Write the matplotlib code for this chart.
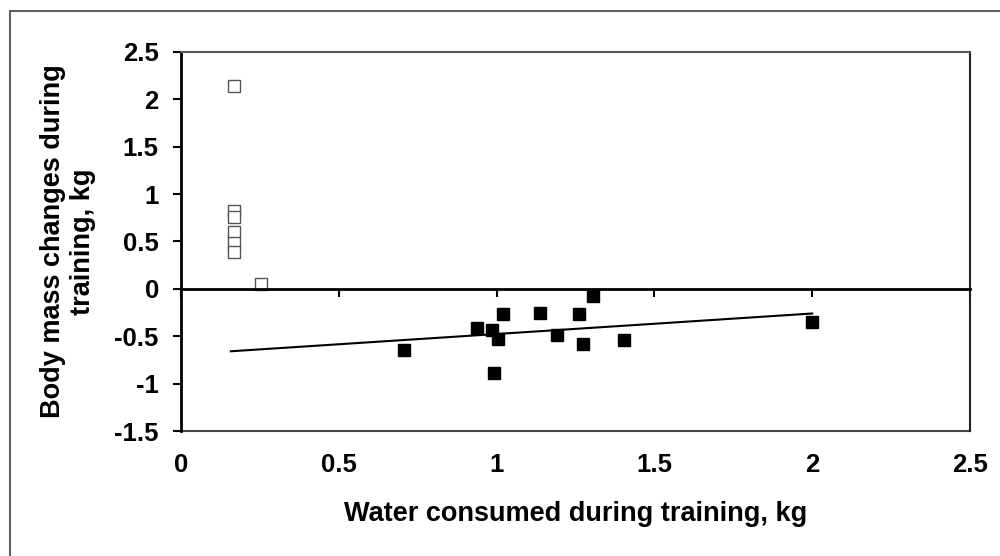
import numpy as np
import matplotlib.pyplot as plt
from matplotlib.patches import Rectangle

plt.rcParams['font.family'] = ['Liberation Sans', 'DejaVu Sans']
plt.rcParams['font.weight'] = 'bold'

# water consumed (kg) vs body mass change (kg)
water_open = [0.168, 0.168, 0.168, 0.168, 0.168, 0.168, 0.254]
mass_open = [2.14, 0.82, 0.76, 0.60, 0.48, 0.39, 0.05]

water_filled = [0.707, 0.938, 0.985, 0.993, 1.005, 1.021, 1.138, 1.192,
                1.261, 1.274, 1.306, 1.404, 2.0]
mass_filled = [-0.65, -0.41, -0.43, -0.89, -0.53, -0.26, -0.25, -0.49,
               -0.26, -0.58, -0.07, -0.54, -0.35]

xticks = [0, 0.5, 1, 1.5, 2, 2.5]
xticklabels = ['0', '0.5', '1', '1.5', '2', '2.5']
yticks = [-1.5, -1, -0.5, 0, 0.5, 1, 1.5, 2, 2.5]
yticklabels = ['-1.5', '-1', '-0.5', '0', '0.5', '1', '1.5', '2', '2.5']

fig = plt.figure(figsize=(10, 5.56), dpi=100)
ax = fig.add_axes([0.181, 0.2248, 0.789, 0.6817])

# outer frame (only left and top edges fall inside the image)
fig.patches.append(Rectangle((0.01, -0.1), 1.2, 1.08, transform=fig.transFigure,
                             fill=False, edgecolor='#606060', lw=1.5))

ax.plot(water_open, mass_open, 's', ms=8.5, mfc='white', mec='#555555', mew=1.0)
ax.plot(water_filled, mass_filled, 's', ms=8.5, color='black')

# linear trend of the filled points, extended back to the first open point
b1, b0 = np.polyfit(water_filled, mass_filled, 1)
xt = np.array([min(water_open) - 0.01, max(water_filled)])
ax.plot(xt, b0 + b1 * xt, color='black', lw=1.5)

ax.set_xlim(0, 2.5)
ax.set_ylim(-1.5, 2.5)

ax.spines['bottom'].set_position(('data', 0))
ax.spines['bottom'].set_linewidth(2)
ax.spines['left'].set_linewidth(2)
for s in ['top', 'right']:
    ax.spines[s].set_color('#555555')
    ax.spines[s].set_linewidth(1.5)
ax.spines['right'].set_color('#222222')

ax.set_xticks(xticks)
ax.tick_params(axis='x', direction='out', length=6, width=1.5, labelbottom=False)
ax.set_yticks(yticks)
ax.set_yticklabels(yticklabels, fontsize=18.5, fontweight='bold')
ax.tick_params(axis='y', direction='out', length=6, width=1.5, pad=10)

sec = ax.secondary_xaxis(0.0)
sec.set_xticks(xticks)
sec.set_xticklabels(xticklabels, fontsize=18.5, fontweight='bold')
sec.tick_params(length=0, pad=16)
sec.spines['bottom'].set_color('#444444')
sec.spines['bottom'].set_linewidth(1.5)
sec.set_xlabel('Water consumed during training, kg', fontsize=19.5, fontweight='bold', labelpad=17)

ax.set_ylabel('Body mass changes during\ntraining, kg', fontsize=19.5, fontweight='bold',
              labelpad=13, linespacing=1.2)

fig.savefig('out.png', dpi=100)
